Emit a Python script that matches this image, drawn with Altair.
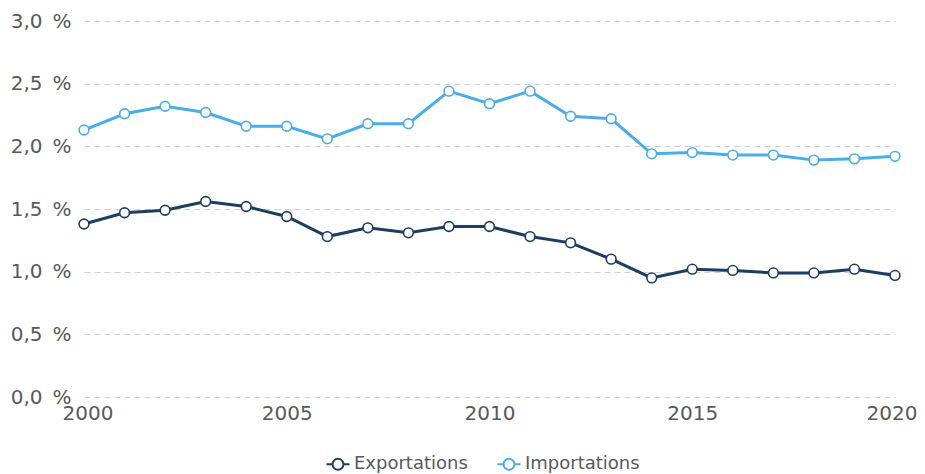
import altair as alt
import pandas as pd

years = list(range(2000, 2021))
exportations = [1.38, 1.47, 1.49, 1.56, 1.52, 1.44, 1.28, 1.35, 1.31, 1.36, 1.36,
                1.28, 1.23, 1.10, 0.95, 1.02, 1.01, 0.99, 0.99, 1.02, 0.97]
importations = [2.13, 2.26, 2.32, 2.27, 2.16, 2.16, 2.06, 2.18, 2.18, 2.44, 2.34,
                2.44, 2.24, 2.22, 1.94, 1.95, 1.93, 1.93, 1.89, 1.90, 1.92]
series_names = ["Exportations", "Importations"]
series_colors = ["#1d3d63", "#4aade8"]
y_ticks = [0, 0.5, 1.0, 1.5, 2.0, 2.5, 3.0]
x_ticks = [2000, 2005, 2010, 2015, 2020]

rows = []
for name, vals in zip(series_names, [exportations, importations]):
    for yr, v in zip(years, vals):
        rows.append({"Année": yr, "Valeur": v, "Série": name})
df = pd.DataFrame(rows)

FONT = "DejaVu Sans"
legend_symbol = ("M-1.6,0 L-0.76,0 M0.76,0 L1.6,0 "
                 "M-0.76,0 A0.76,0.76 0 1,0 0.76,0 A0.76,0.76 0 1,0 -0.76,0 Z")

x = alt.X("Année:Q",
          scale=alt.Scale(domain=[2000, 2020], nice=False, zero=False),
          axis=alt.Axis(values=x_ticks, format="d", title=None, grid=False, domain=False,
                        ticks=False, labelFont=FONT, labelFontSize=20, labelColor="#595959",
                        labelPadding=6, labelFlush=True, labelFlushOffset=22,
                        labelOverlap=False))
y = alt.Y("Valeur:Q",
          scale=alt.Scale(domain=[0, 3.0], nice=False),
          axis=alt.Axis(values=y_ticks, title=None, domain=False, ticks=False,
                        labelExpr="replace(format(datum.value, '.1f'), '.', ',') + '\u2002%'",
                        labelFont=FONT, labelFontSize=20, labelColor="#595959", labelPadding=13,
                        grid=True, gridColor="#d0d0d0", gridDash=[6, 4], gridWidth=1.2))
color = alt.Color("Série:N",
                  scale=alt.Scale(domain=series_names, range=series_colors),
                  legend=alt.Legend(title=None, orient="none", direction="horizontal",
                                    legendX=245, legendY=434, padding=0,
                                    symbolType=legend_symbol, symbolSize=207,
                                    symbolFillColor="white", symbolStrokeWidth=2,
                                    labelOffset=7,
                                    labelFont=FONT, labelFontSize=18, labelColor="#595959",
                                    columnPadding=25))

base = alt.Chart(df)
lines = base.mark_line(strokeWidth=3).encode(x=x, y=y, color=color)
points = base.mark_point(filled=False, fill="white", fillOpacity=1, size=95, strokeWidth=1.6,
                         opacity=1).encode(x=x, y=y, color=color)

chart = alt.layer(lines, points).properties(
    width=811, height=376,
    padding={"left": 76, "top": 13, "right": 22, "bottom": 76},
    autosize=alt.AutoSizeParams(type="none"),
).configure_view(stroke=None)

chart.save("out.html", embed_options={"renderer": "svg", "actions": False})
